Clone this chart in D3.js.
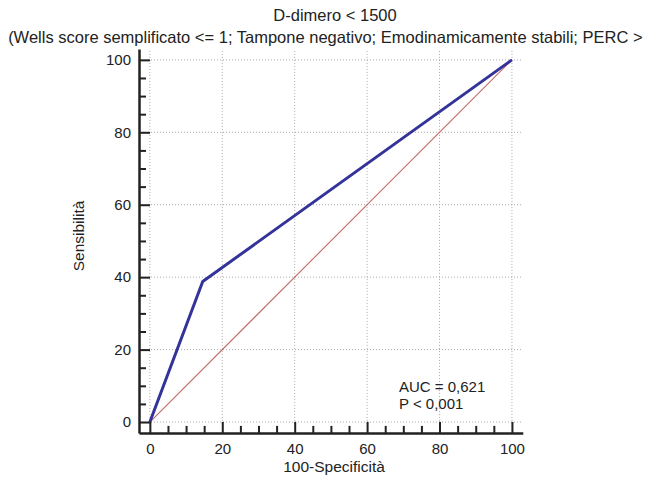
<!DOCTYPE html>
<html>
<head>
<meta charset="utf-8">
<script src="https://cdn.jsdelivr.net/npm/d3@7"></script>
<style>
  body { margin: 0; background: #fff; overflow: hidden; }
  svg { display: block; font-family: "Liberation Sans", Arial, sans-serif; }
</style>
</head>
<body>
<div class="container"></div>
<script>
// ROC curve, D-dimero

const rocFpr = [0, 14.6, 100];   // 100-Specificità
const rocTpr = [0, 38.8, 100];   // Sensibilità
const majorTicks = [0, 20, 40, 60, 80, 100];
const minorTicks = d3.range(0, 101, 5).filter((d) => d % 20 !== 0);
const titleLines = [
  "D-dimero < 1500",
  "(Wells score semplificato <= 1; Tampone negativo; Emodinamicamente stabili; PERC > 0)",
];
const statLines = ["AUC = 0,621", "P < 0,001"];

let w = 645;
let h = 479;

const xScale = d3.scaleLinear().domain([-3, 103]).range([139, 522.8]);
const yScale = d3.scaleLinear().domain([-3, 103]).range([432.9, 49]);

const svg = d3
  .select(".container")
  .append("svg")
  .attr("width", w)
  .attr("height", h)
  .attr("viewBox", [0, 0, w, h]);

// grid
svg.append("g")
  .selectAll("line")
  .data(majorTicks)
  .join("line")
  .attr("x1", (d) => xScale(d))
  .attr("x2", (d) => xScale(d))
  .attr("y1", yScale(-3))
  .attr("y2", yScale(103))
  .attr("stroke", "#aaa")
  .attr("stroke-dasharray", "1,2");

svg.append("g")
  .selectAll("line")
  .data(majorTicks)
  .join("line")
  .attr("x1", xScale(-3))
  .attr("x2", xScale(103))
  .attr("y1", (d) => yScale(d))
  .attr("y2", (d) => yScale(d))
  .attr("stroke", "#aaa")
  .attr("stroke-dasharray", "1,2");

// diagonal reference line
svg.append("line")
  .attr("x1", xScale(0))
  .attr("y1", yScale(0))
  .attr("x2", xScale(100))
  .attr("y2", yScale(100))
  .attr("stroke", "#c46a6a")
  .attr("stroke-width", 1.1);

// ROC curve
const line = d3.line()
  .x((d) => xScale(d[0]))
  .y((d) => yScale(d[1]));

svg.append("path")
  .datum(rocFpr.map((d, i) => [d, rocTpr[i]]))
  .attr("d", line)
  .attr("fill", "none")
  .attr("stroke", "#333399")
  .attr("stroke-width", 3)
  .attr("stroke-linejoin", "round");

// axes: ticks point inward, drawn with negative tick sizes
const xAxis = svg.append("g")
  .attr("transform", `translate(0,${yScale(-3)})`)
  .call(d3.axisBottom(xScale).tickValues(majorTicks).tickSizeInner(-11).tickSizeOuter(0).tickPadding(10.5));
xAxis.append("g")
  .call(d3.axisBottom(xScale).tickValues(minorTicks).tickSize(-7).tickFormat(""))
  .call((g) => g.select(".domain").remove());

const yAxis = svg.append("g")
  .attr("transform", `translate(${xScale(-3)},0)`)
  .call(d3.axisLeft(yScale).tickValues(majorTicks).tickSizeInner(-11).tickSizeOuter(0).tickPadding(8));
yAxis.append("g")
  .call(d3.axisLeft(yScale).tickValues(minorTicks).tickSize(-7).tickFormat(""))
  .call((g) => g.select(".domain").remove());

svg.selectAll(".domain").attr("stroke", "#222").attr("stroke-width", 2.5);
svg.selectAll(".tick line").attr("stroke", "#222").attr("stroke-width", 2);
svg.selectAll(".tick text").attr("font-size", "15px").attr("fill", "#222")
  .attr("font-family", "Liberation Sans, Arial, sans-serif");

// axis titles
svg.append("text")
  .text("100-Specificità")
  .attr("x", 334)
  .attr("y", 472)
  .attr("text-anchor", "middle")
  .attr("font-size", "15.5px")
  .attr("fill", "#222");

svg.append("text")
  .text("Sensibilità")
  .attr("transform", `translate(84,236) rotate(-90)`)
  .attr("text-anchor", "middle")
  .attr("font-size", "15.5px")
  .attr("fill", "#222");

// title
svg.selectAll(".title")
  .data(titleLines)
  .join("text")
  .attr("class", "title")
  .text((d) => d)
  .attr("x", 335)
  .attr("y", (d, i) => 21 + i * 22)
  .attr("text-anchor", "middle")
  .attr("font-size", "16.5px")
  .attr("fill", "#222");

// stats
svg.selectAll(".stat")
  .data(statLines)
  .join("text")
  .attr("class", "stat")
  .text((d) => d)
  .attr("x", 399)
  .attr("y", (d, i) => 392 + i * 17)
  .attr("font-size", "15px")
  .attr("fill", "#222");
</script>
</body>
</html>
